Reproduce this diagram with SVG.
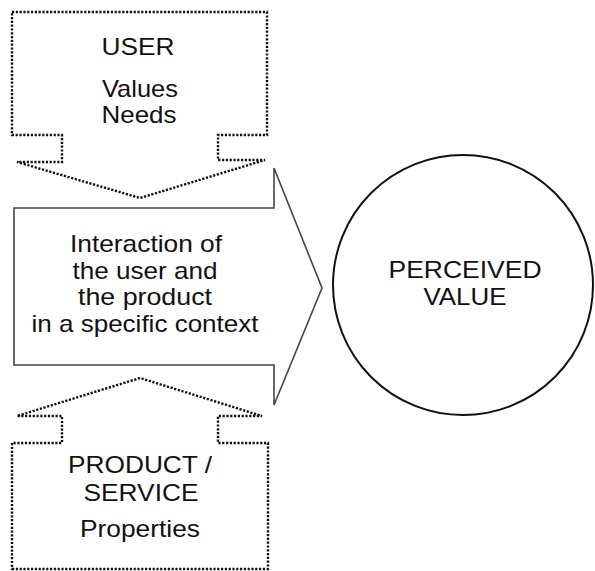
<svg xmlns="http://www.w3.org/2000/svg" width="595" height="571" viewBox="0 0 595 571">
<style>
.dot{fill:none;stroke:#111;stroke-width:2.4;stroke-dasharray:2.2 1.6}
.main{fill:#fff;stroke:#444;stroke-width:1.6;stroke-linejoin:miter}
.circ{fill:#fff;stroke:#111;stroke-width:2}
text{font-family:"Liberation Sans",Arial,sans-serif;font-size:24px;fill:#111;text-anchor:middle}
</style>
<rect width="595" height="571" fill="#fff"/>
<g id="user">
<path class="dot" d="M12,12 H267 V135 H218 V160 H265 L140,198 L17,162 H62 V135 H12 Z"/>
<text x="138" y="55" textLength="73" lengthAdjust="spacingAndGlyphs">USER</text>
<text x="140" y="97" textLength="76" lengthAdjust="spacingAndGlyphs">Values</text>
<text x="139" y="123" textLength="75" lengthAdjust="spacingAndGlyphs">Needs</text>
</g>
<g id="interaction">
<path class="main" d="M14,208 H274 V168 L322,288 L274,405 V365 H14 Z"/>
<text x="146" y="252" textLength="152" lengthAdjust="spacingAndGlyphs">Interaction of</text>
<text x="145" y="279" textLength="145" lengthAdjust="spacingAndGlyphs">the user and</text>
<text x="145" y="305" textLength="134" lengthAdjust="spacingAndGlyphs">the product</text>
<text x="145" y="332" textLength="227" lengthAdjust="spacingAndGlyphs">in a specific context</text>
</g>
<g id="product">
<path class="dot" d="M12,569 H268 V443 H218 V416 H262 L140,378 L17,416 H62 V443 H12 Z"/>
<text x="140" y="473" textLength="144" lengthAdjust="spacingAndGlyphs">PRODUCT /</text>
<text x="141" y="501" textLength="115" lengthAdjust="spacingAndGlyphs">SERVICE</text>
<text x="140" y="537" textLength="120" lengthAdjust="spacingAndGlyphs">Properties</text>
</g>
<g id="perceived">
<circle class="circ" cx="463" cy="285" r="130"/>
<text x="465" y="278" textLength="153" lengthAdjust="spacingAndGlyphs">PERCEIVED</text>
<text x="465" y="305" textLength="83" lengthAdjust="spacingAndGlyphs">VALUE</text>
</g>
<g id="connectors"/>
</svg>
